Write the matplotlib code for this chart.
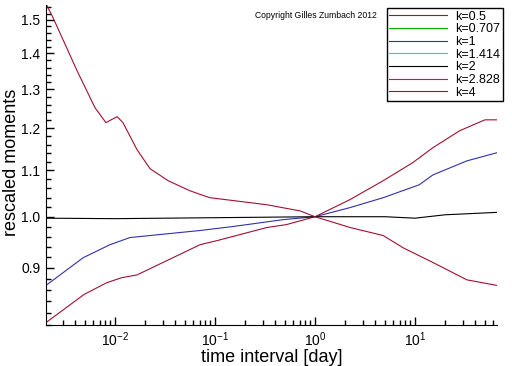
import matplotlib
matplotlib.use('Agg')
import matplotlib.pyplot as plt
from matplotlib.ticker import FixedLocator, NullFormatter, LogLocator, FixedFormatter

plt.rcParams['font.family'] = ['Liberation Sans', 'DejaVu Sans']
plt.rcParams['mathtext.default'] = 'regular'

# k=4 (upper red curve)
x_k4 = [0.00207, 0.0024, 0.00417, 0.0063, 0.0081, 0.0105, 0.012, 0.0166, 0.0224, 0.034,
        0.056, 0.083, 0.089, 0.33, 0.71, 1.0, 2.24, 4.8, 7.6, 15.1, 33, 66]
y_k4 = [1.547, 1.507, 1.351, 1.252, 1.214, 1.229, 1.214, 1.148, 1.104, 1.077,
        1.055, 1.042, 1.040, 1.025, 1.012, 1.0, 0.978, 0.962, 0.938, 0.910, 0.878, 0.868]

# k=0.5 (lower red curve)
x_k05 = [0.00204, 0.0049, 0.0083, 0.0117, 0.0166, 0.0708, 0.105, 0.33, 0.52, 1.0,
         2.24, 4.8, 9.5, 15.1, 28, 50, 66]
y_k05 = [0.804, 0.852, 0.873, 0.882, 0.887, 0.944, 0.952, 0.978, 0.984, 1.0,
         1.036, 1.077, 1.118, 1.153, 1.194, 1.221, 1.221]

# k=1 (blue)
x_k1 = [0.00204, 0.0048, 0.0089, 0.0141, 0.0708, 0.151, 0.48, 1.0, 2.24, 4.8, 11,
        15.1, 33, 66]
y_k1 = [0.868, 0.919, 0.944, 0.958, 0.972, 0.980, 0.994, 1.0, 1.019, 1.040, 1.068,
        1.090, 1.122, 1.141]

# k=2 (black)
x_k2 = [0.00204, 0.01, 0.1, 1.0, 5.0, 10.0, 20.0, 66]
y_k2 = [0.997, 0.996, 0.998, 1.0, 1.0, 0.997, 1.004, 1.009]

y_ticks = [0.9, 1.0, 1.1, 1.2, 1.3, 1.4, 1.5]
y_minor = [0.80 + 0.02 * i for i in range(38)]

red = '#a01030'
blue = '#3030b0'

fig = plt.figure(figsize=(5.12, 3.66), dpi=100)
ax = fig.add_axes([46 / 512, 1 - 325 / 366, 451 / 512, 320 / 366])

ax.plot(x_k05, y_k05, color=red, lw=0.8, label='k=0.5')
ax.plot([], [], color='#00b000', lw=0.8, label='k=0.707')
ax.plot(x_k1, y_k1, color=blue, lw=0.8, label='k=1')
ax.plot([], [], color='#00e0e0', lw=0.8, label='k=1.414')
ax.plot(x_k2, y_k2, color='black', lw=0.8, label='k=2')
ax.plot([], [], color='#c000c0', lw=0.8, label='k=2.828')
ax.plot(x_k4, y_k4, color=red, lw=0.8, label='k=4')

ax.set_xscale('log')
ax.set_yscale('log')
ax.set_xlim(0.00204, 66)
ax.set_ylim(0.80, 1.547)

ax.xaxis.set_major_locator(LogLocator(base=10, numticks=20))
ax.xaxis.set_minor_locator(LogLocator(base=10, subs=range(2, 10), numticks=40))
ax.xaxis.set_minor_formatter(NullFormatter())

ax.yaxis.set_major_locator(FixedLocator(y_ticks))
ax.yaxis.set_major_formatter(FixedFormatter(['%.1f' % v for v in y_ticks]))
ax.yaxis.set_minor_locator(FixedLocator(y_minor))
ax.yaxis.set_minor_formatter(NullFormatter())

for s in ['top', 'right']:
    ax.spines[s].set_visible(False)
ax.tick_params(which='both', direction='in', labelsize=10, width=1)
ax.tick_params(which='major', length=6, pad=4)
ax.tick_params(which='minor', length=3.5)

ax.set_xlabel('time interval [day]', fontsize=13, va='center')
ax.xaxis.set_label_coords(0.501, -0.1)
ax.set_ylabel('rescaled moments', fontsize=13, va='center')
ax.yaxis.set_label_coords(-0.077, 0.508)

fig.text(316 / 512, 1 - 16 / 366, 'Copyright Gilles Zumbach 2012', fontsize=6.2,
         ha='center', va='center')

leg = fig.legend(loc='upper right', bbox_to_anchor=(509 / 512, 1 - 2 / 366),
                 fontsize=9, handlelength=4.6, labelspacing=0.05, borderpad=0.2,
                 handletextpad=0.7, fancybox=False, framealpha=1, edgecolor='black')
leg.get_frame().set_linewidth(1)

fig.savefig('out.png', dpi=100)
